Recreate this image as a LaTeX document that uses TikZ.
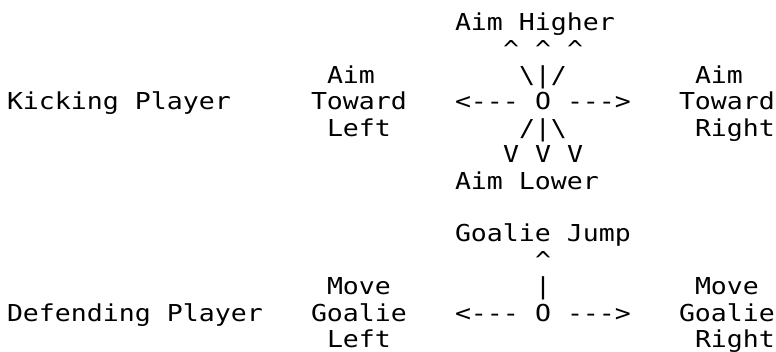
\documentclass[tikz,border=0pt]{standalone}
\usepackage{fontspec}
\newfontfamily\asciifont{DejaVu Sans Mono}[FakeStretch=1.14,Ligatures=TeXOff]
\usepackage{tikz}

\begin{document}
\begin{tikzpicture}[
  x=16pt, y=-26.4pt,
  ascii/.style={anchor=base west, inner sep=0pt, outer sep=0pt, font=\asciifont\fontsize{23.3pt}{26.4pt}\selectfont}
]
\useasboundingbox (-7pt,4.4pt) rectangle (769pt,-347.6pt);

% Kicking Player
\node[ascii] (aimhigher) at (28,1) {Aim Higher};
\foreach \c in {31,33,35}
  \node[ascii] (up\c) at (\c,2) {\textasciicircum};
\node[ascii] (aimL) at (20,3) {Aim};
\node[ascii] (kickup) at (32,3) {\textbackslash|/};
\node[ascii] (aimR) at (43,3) {Aim};

\node[ascii] (kicker) at (0,4) {Kicking Player};
\node[ascii] (towardL) at (19,4) {Toward};
\node[ascii] (kickleft) at (28,4) {<---};
\node[ascii] (kickball) at (33,4) {O};
\node[ascii] (kickright) at (35,4) {--->};
\node[ascii] (towardR) at (42,4) {Toward};

\node[ascii] (leftL) at (20,5) {Left};
\node[ascii] (kickdown) at (32,5) {/|\textbackslash};
\node[ascii] (rightR) at (43,5) {Right};
\foreach \c in {31,33,35}
  \node[ascii] (down\c) at (\c,6) {V};
\node[ascii] (aimlower) at (28,7) {Aim Lower};

% Defending Player
\node[ascii] (jump) at (28,9) {Goalie Jump};
\node[ascii] (jumparrow) at (33,10) {\textasciicircum};
\node[ascii] (moveL) at (20,11) {Move};
\node[ascii] (jumpline) at (33,11) {|};
\node[ascii] (moveR) at (43,11) {Move};

\node[ascii] (defender) at (0,12) {Defending Player};
\node[ascii] (goalieL) at (19,12) {Goalie};
\node[ascii] (goalleft) at (28,12) {<---};
\node[ascii] (goalball) at (33,12) {O};
\node[ascii] (goalright) at (35,12) {--->};
\node[ascii] (goalieR) at (42,12) {Goalie};

\node[ascii] (leftG) at (20,13) {Left};
\node[ascii] (rightG) at (43,13) {Right};

\end{tikzpicture}
\end{document}
